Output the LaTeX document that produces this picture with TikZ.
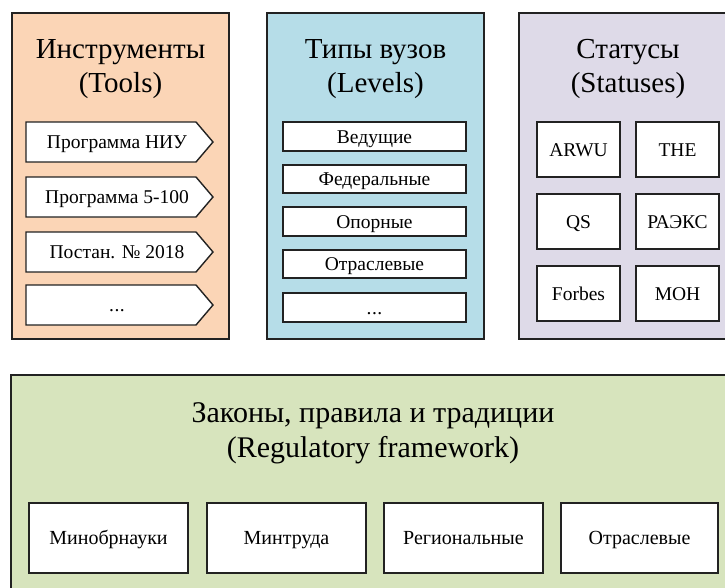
\documentclass[tikz,border=0pt]{standalone}
\usepackage{fontspec}
\setmainfont{Liberation Serif}
\definecolor{toolfill}{HTML}{FBD5B6}
\definecolor{levelfill}{HTML}{B6DDE8}
\definecolor{statfill}{HTML}{DEDAE8}
\definecolor{lawfill}{HTML}{D7E4BD}
\definecolor{edge}{HTML}{222222}
\tikzset{
  panel/.style={draw=edge, line width=1.4pt},
  item/.style={draw=edge, line width=1.4pt, fill=white, inner sep=0pt},
  title/.style={anchor=base, font=\fontsize{29}{34}\selectfont, inner sep=0pt},
  bigtitle/.style={anchor=base, font=\fontsize{30}{35}\selectfont, inner sep=0pt},
  lbl/.style={anchor=base, font=\fontsize{19.5}{22}\selectfont, inner sep=0pt},
  reglbl/.style={anchor=base, font=\fontsize{20}{22}\selectfont, inner sep=0pt},
}
\newcommand{\etc}{.\kern0.5pt.\kern0.5pt.}
\begin{document}
\begin{tikzpicture}[x=1pt, y=-1pt]
\useasboundingbox (0,0) rectangle (725,587);
\begin{scope}
\clip (0,0) rectangle (725,587);

% --- Tools panel ---
\draw[panel, fill=toolfill] (12,13) rectangle (229,339);
\node[title] (tT1) at (120.5,58) {Инструменты};
\node[title] (tT2) at (120.5,92) {(Tools)};
\foreach \i/\y/\t in {1/122/Программа НИУ, 2/177/Программа 5-100, 3/232/Постан. № 2018, 4/285/\etc}{
  \draw[item] (26,\y) -- (196,\y) -- (213,\y+20) -- (196,\y+40) -- (26,\y+40) -- cycle;
  \node[lbl] (tool\i) at (117,\y+26.5) {\t};
}

% --- Levels panel ---
\draw[panel, fill=levelfill] (267,13) rectangle (484,339);
\node[title] (lT1) at (375.5,58) {Типы вузов};
\node[title] (lT2) at (375.5,92) {(Levels)};
\foreach \i/\a/\b/\t in {1/122/151/Ведущие, 2/165/193/Федеральные, 3/207/236/Опорные, 4/250/278/Отраслевые, 5/293/322/\etc}{
  \draw[item] (283,\a) rectangle (466,\b);
  \node[lbl] (lev\i) at (374.5,{(\a+\b)/2+6.5}) {\t};
}

% --- Statuses panel ---
\draw[panel, fill=statfill] (519,13) rectangle (740,339);
\node[title] (sT1) at (628,58) {Статусы};
\node[title] (sT2) at (628,92) {(Statuses)};
\foreach \i/\a/\b/\l/\r in {1/122/177/ARWU/THE, 2/194/249/QS/РАЭКС, 3/266/321/Forbes/МОН}{
  \draw[item] (537,\a) rectangle (620,\b);
  \node[lbl] (sl\i) at (578.5,{(\a+\b)/2+6.5}) {\l};
  \draw[item] (636,\a) rectangle (719,\b);
  \node[lbl] (sr\i) at (677.5,{(\a+\b)/2+6.5}) {\r};
}

% --- Regulatory framework panel ---
\draw[panel, fill=lawfill] (11,375) rectangle (740,600);
\node[bigtitle] (rT1) at (373,422) {Законы, правила и традиции};
\node[bigtitle] (rT2) at (373,457) {(Regulatory framework)};
\foreach \i/\a/\b/\t in {1/29/188/Минобрнауки, 2/207/366/Минтруда, 3/384/543/Региональные, 4/561/718/Отраслевые}{
  \draw[item] (\a,503) rectangle (\b,573);
  \node[reglbl] (reg\i) at ({(\a+\b)/2},544.5) {\t};
}
\end{scope}
\end{tikzpicture}
\end{document}
